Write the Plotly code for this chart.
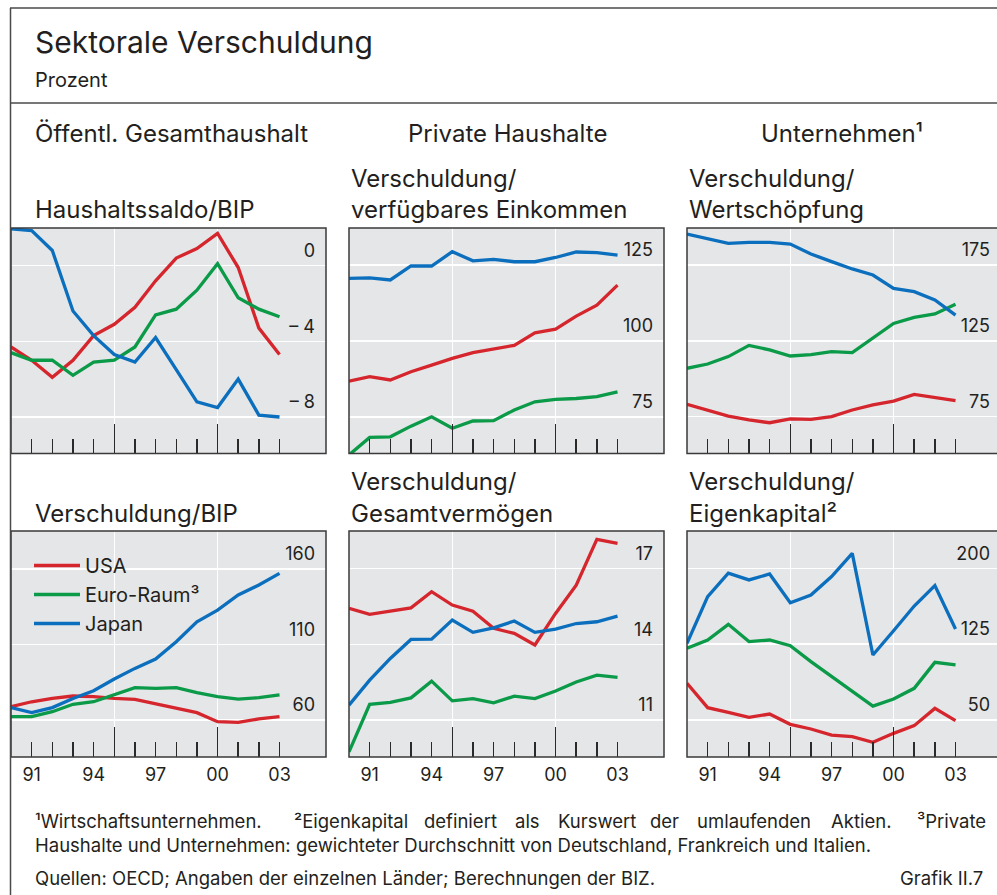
import plotly.graph_objects as go

W, H = 997, 895
FONT = "Inter, Liberation Sans, Arial, sans-serif"
TXT = "#231f20"

years = list(range(1990, 2004))

# Haushaltssaldo/BIP
saldo_usa = [-4.3, -5.0, -5.9, -5.0, -3.7, -3.1, -2.2, -0.8, 0.4, 0.9, 1.7, -0.1, -3.3, -4.7]
saldo_euro = [-4.6, -5.0, -5.0, -5.8, -5.1, -5.0, -4.3, -2.6, -2.3, -1.3, 0.1, -1.7, -2.3, -2.7]
saldo_japan = [1.95, 1.85, 0.8, -2.4, -3.7, -4.7, -5.1, -3.8, -5.5, -7.2, -7.5, -6.0, -7.9, -8.0]

# Private Haushalte: Verschuldung/verfügbares Einkommen
hh_eink_usa = [86.8, 88.3, 87.2, 89.9, 92.1, 94.3, 96.2, 97.3, 98.6, 102.7, 103.9, 108.2, 111.8, 118.4]
hh_eink_euro = [62.5, 68.3, 68.5, 72.0, 75.1, 71.3, 73.7, 73.8, 77.3, 80.0, 80.8, 81.1, 81.7, 83.3]
hh_eink_japan = [120.6, 120.8, 120.1, 124.7, 124.7, 129.4, 126.4, 126.9, 126.1, 126.1, 127.5, 129.3, 129.1, 128.3]

# Unternehmen: Verschuldung/Wertschöpfung
ut_ws_usa = [83.1, 79.4, 75.4, 72.8, 71.0, 73.5, 73.2, 75.0, 79.4, 82.7, 85.3, 89.7, 87.7, 85.5]
ut_ws_euro = [106.9, 109.7, 114.6, 122.0, 119.0, 115.0, 115.9, 117.9, 117.2, 126.6, 136.5, 140.5, 142.7, 149.1]
ut_ws_japan = [195.4, 192.6, 189.3, 189.9, 189.9, 188.8, 182.3, 177.2, 172.4, 168.4, 159.6, 157.4, 151.9, 142.0]

# Öffentl. Gesamthaushalt: Verschuldung/BIP
debt_usa = [68.8, 72.1, 74.3, 75.9, 75.5, 74.3, 73.7, 70.6, 67.7, 64.9, 58.9, 58.5, 60.7, 62.2]
debt_euro = [62.2, 62.2, 65.5, 70.4, 72.1, 77.0, 81.4, 81.0, 81.4, 78.1, 75.5, 73.9, 74.8, 76.6]
debt_japan = [68.2, 64.9, 68.2, 74.3, 79.4, 87.2, 94.2, 100.4, 111.9, 125.1, 132.8, 142.8, 149.4, 157.1]

# Private Haushalte: Verschuldung/Gesamtvermögen
hh_verm_usa = [15.42, 15.18, 15.31, 15.44, 16.08, 15.55, 15.31, 14.63, 14.43, 13.97, 15.22, 16.34, 18.15, 17.99]
hh_verm_euro = [9.74, 11.62, 11.70, 11.88, 12.54, 11.76, 11.85, 11.68, 11.95, 11.85, 12.15, 12.51, 12.78, 12.69]
hh_verm_japan = [11.59, 12.58, 13.44, 14.19, 14.20, 14.96, 14.47, 14.65, 14.92, 14.47, 14.60, 14.82, 14.89, 15.11]

# Unternehmen: Verschuldung/Eigenkapital
ut_ek_usa = [86.3, 62.2, 57.6, 52.6, 55.9, 45.7, 41.1, 35.1, 33.5, 27.9, 36.8, 44.4, 61.5, 49.3]
ut_ek_euro = [120.9, 129.1, 144.6, 127.5, 129.1, 123.5, 107.7, 92.8, 78.7, 63.8, 70.8, 81.3, 107.0, 104.4]
ut_ek_japan = [125.8, 172.0, 195.1, 188.5, 194.4, 166.0, 173.6, 191.8, 214.8, 114.3, 138.3, 162.7, 182.9, 140.0]

series_names = ["USA", "Euro-Raum³", "Japan"]
series_colors = ["#d5262d", "#0a9a48", "#0b6fbd"]

panels = [
    dict(data=[saldo_usa, saldo_euro, saldo_japan], yr=[-9.93, 1.99],
         yticks=[-8, -4, 0], ytext=["– 8", "– 4", "0"]),
    dict(data=[hh_eink_usa, hh_eink_euro, hh_eink_japan], yr=[63.0, 137.2],
         yticks=[75, 100, 125], ytext=["75", "100", "125"]),
    dict(data=[ut_ws_usa, ut_ws_euro, ut_ws_japan], yr=[50.7, 199.4],
         yticks=[75, 125, 175], ytext=["75", "125", "175"]),
    dict(data=[debt_usa, debt_euro, debt_japan], yr=[35.5, 185.2],
         yticks=[60, 110, 160], ytext=["60", "110", "160"]),
    dict(data=[hh_verm_usa, hh_verm_euro, hh_verm_japan], yr=[9.54, 18.48],
         yticks=[11, 14, 17], ytext=["11", "14", "17"]),
    dict(data=[ut_ek_usa, ut_ek_euro, ut_ek_japan], yr=[13.4, 236.9],
         yticks=[50, 125, 200], ytext=["50", "125", "200"]),
]

xlabel_vals = [1991, 1994, 1997, 2000, 2003]
xlabel_text = ["91", "94", "97", "00", "03"]
major_years = [1995, 2000]
minor_years = list(range(1991, 2005))

# geometry (pixels)
col_x = [(11, 326), (349, 664), (687, 997)]
row_y = [(228, 453.5), (531, 757)]
px_per_year = 315 / 15.25


def fx(px):
    return px / W


def fy(py):
    return 1 - py / H


fig = go.Figure()
layout = dict(
    width=W, height=H, margin=dict(l=0, r=0, t=0, b=0),
    paper_bgcolor="white", plot_bgcolor="#e5e6e8",
    font=dict(family=FONT, color=TXT),
    showlegend=True,
)

shapes = []
for i, p in enumerate(panels):
    r, c = divmod(i, 3)
    n = "" if i == 0 else str(i + 1)
    xa, ya = "x" + n, "y" + n
    xlab = "x" + str(i + 4) if r == 1 else None
    x0, x1 = col_x[c]
    y0, y1 = row_y[r]
    xr = [1990, 1990 + (x1 - x0) / px_per_year]
    for k in range(3):
        # in the lower row the last series sits on the overlaid label axis
        use_x = xlab if (xlab and k == 2) else xa
        fig.add_trace(go.Scatter(
            x=years, y=p["data"][k], mode="lines", name=series_names[k],
            line=dict(color=series_colors[k], width=3.3),
            xaxis=use_x, yaxis=ya, showlegend=(i == 3), legendgroup=str(k),
            hoverinfo="skip",
        ))
    layout["xaxis" + n] = dict(
        domain=[fx(x0), fx(x1)], anchor=ya, range=xr, fixedrange=True,
        tickmode="array", tickvals=major_years, showticklabels=False,
        ticks="inside", ticklen=30, tickwidth=1.5, tickcolor="#2a2a2a",
        showgrid=True, gridcolor="white", gridwidth=1.5,
        showline=False, zeroline=False,
        minor=dict(tickmode="array", tickvals=minor_years, ticks="inside",
                   ticklen=15, tickwidth=1.5, tickcolor="#2a2a2a", showgrid=False),
    )
    inset = 4 if c == 2 else 8
    layout["yaxis" + n] = dict(
        domain=[fy(y1), fy(y0)], anchor=xa, range=p["yr"], fixedrange=True,
        side="right", tickmode="array", tickvals=p["yticks"], ticktext=p["ytext"],
        ticks="", ticklabelposition="inside", ticklabelshift=-15,
        ticklabelstandoff=inset,
        tickfont=dict(size=18, color=TXT),
        showgrid=True, gridcolor="white", gridwidth=1.5,
        showline=False, zeroline=False,
    )
    if xlab:
        layout["xaxis" + str(i + 4)] = dict(
            domain=[fx(x0), fx(x1)], anchor=ya, overlaying=xa, range=xr,
            fixedrange=True, tickmode="array", tickvals=xlabel_vals,
            ticktext=xlabel_text, ticks="outside", ticklen=1,
            tickcolor="rgba(0,0,0,0)", showgrid=False, showline=False,
            zeroline=False, side="bottom", tickfont=dict(size=18, color=TXT),
        )
    # panel frame
    xd1 = 1.0 if c < 2 else (1002 - x0) / (x1 - x0)
    shapes.append(dict(type="rect", xref=xa + " domain", yref=ya + " domain",
                       x0=0, x1=xd1, y0=0, y1=1, layer="above",
                       line=dict(color="#3a3a3a", width=1.5)))

# outer frame
frame = "#4a4a4a"
shapes += [
    dict(type="line", xref="paper", yref="paper", x0=fx(10.5), x1=fx(10.5),
         y0=fy(8), y1=0, line=dict(color=frame, width=1.5)),
    dict(type="line", xref="paper", yref="paper", x0=fx(10), x1=1,
         y0=fy(8), y1=fy(8), line=dict(color=frame, width=1.5)),
    dict(type="line", xref="paper", yref="paper", x0=fx(10), x1=1,
         y0=fy(103), y1=fy(103), line=dict(color=frame, width=1.5)),
]
layout["shapes"] = shapes


def ann(text, x, y, size, xanchor="left"):
    return dict(text=text, x=fx(x), y=fy(y), xref="paper", yref="paper",
                xanchor=xanchor, yanchor="middle", showarrow=False,
                font=dict(size=size, color=TXT, family=FONT))


SUB = 24
annotations = [
    ann("Sektorale Verschuldung", 33, 42, 30),
    ann("Prozent", 33, 80, 20),
    ann("Öffentl. Gesamthaushalt", 33, 133, SUB),
    ann("Private Haushalte", 507, 133, SUB, "center"),
    ann("Unternehmen¹", 842, 133, SUB, "center"),
    ann("Haushaltssaldo/BIP", 33, 210, SUB),
    ann("Verschuldung/", 349, 178, SUB),
    ann("verfügbares Einkommen", 349, 210, SUB),
    ann("Verschuldung/", 687, 178, SUB),
    ann("Wertschöpfung", 687, 210, SUB),
    ann("Verschuldung/BIP", 33, 513, SUB),
    ann("Verschuldung/", 349, 481, SUB),
    ann("Gesamtvermögen", 349, 513, SUB),
    ann("Verschuldung/", 687, 481, SUB),
    ann("Eigenkapital²", 687, 513, SUB),
]

FN = 18.5
foot_words = [
    ("¹Wirtschaftsunternehmen.", 33), ("²Eigenkapital", 292), ("definiert", 422),
    ("als", 513), ("Kurswert", 556), ("der", 648), ("umlaufenden", 695),
    ("Aktien.", 829),
]
for w, xp in foot_words:
    annotations.append(ann(w, xp, 821, FN))
annotations.append(ann("³Private", 988, 821, FN, "right"))
annotations.append(ann("Haushalte und Unternehmen: gewichteter Durchschnitt von Deutschland, Frankreich und Italien.", 33, 845, FN))
annotations.append(ann("Quellen: OECD; Angaben der einzelnen Länder; Berechnungen der BIZ.", 33, 878, FN))
annotations.append(ann("Grafik II.7", 985, 878, FN, "right"))
layout["annotations"] = annotations

layout["legend"] = dict(
    x=fx(29), y=fy(546), xanchor="left", yanchor="top",
    bgcolor="rgba(0,0,0,0)", borderwidth=0, traceorder="normal",
    font=dict(size=20, color=TXT, family=FONT), tracegroupgap=0,
    itemwidth=46,
)

fig.update_layout(**layout)
fig.write_html(
    "out.html",
    config={"displayModeBar": False, "staticPlot": True},
    post_script="document.body.style.margin='0';document.body.style.overflow='hidden';",
)
